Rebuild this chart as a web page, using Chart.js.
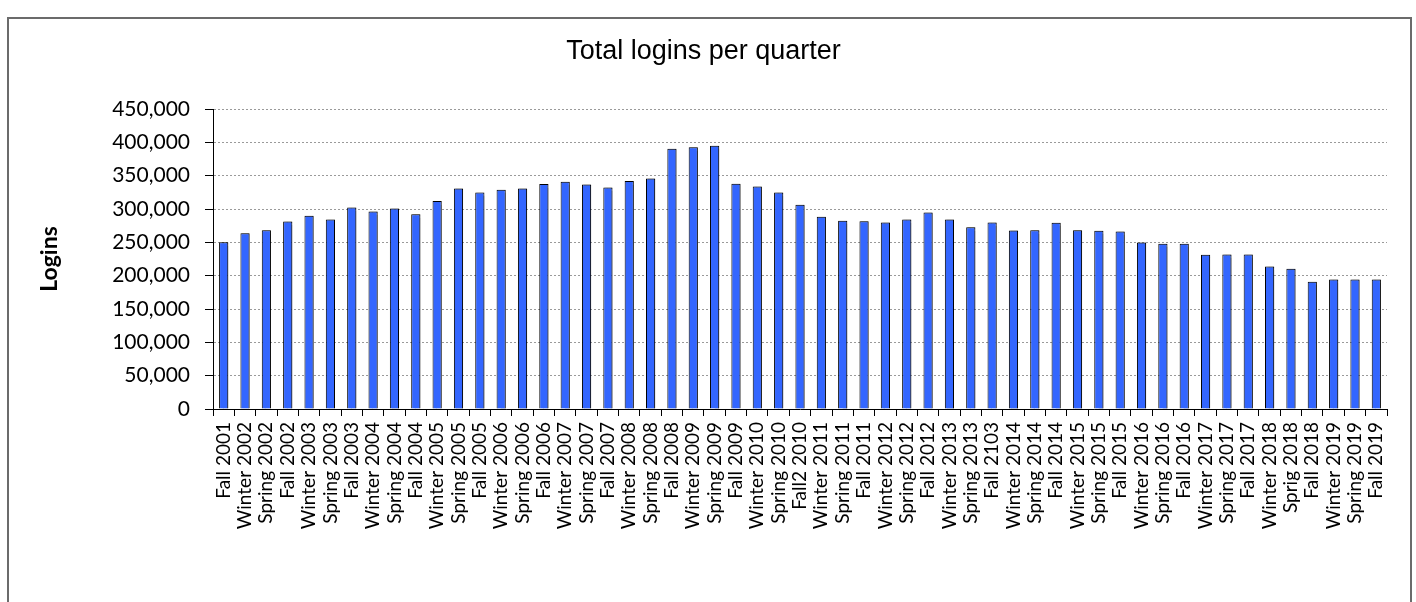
<!DOCTYPE html>
<html>
<head>
<meta charset="utf-8">
<script src="https://cdn.jsdelivr.net/npm/chart.js@4/dist/chart.umd.min.js"></script>
<style>
  body { margin: 0; background: #fff; }
  #wrap { position: relative; width: 1416px; height: 602px; overflow: hidden; }
  #frame { position: absolute; left: 7px; top: 17px; width: 1401px; height: 640px;
           border: 2px solid #6b6b6b; pointer-events: none; }
</style>
</head>
<body>
<div id="wrap">
  <canvas id="myChart" width="1416" height="602"></canvas>
  <div id="frame"></div>
</div>
<script>
const quarters = [
  'Fall 2001', 'Winter 2002', 'Spring 2002', 'Fall 2002', 'Winter 2003', 'Spring 2003',
  'Fall 2003', 'Winter 2004', 'Spring 2004', 'Fall 2004', 'Winter 2005', 'Spring 2005',
  'Fall 2005', 'Winter 2006', 'Spring 2006', 'Fall 2006', 'Winter 2007', 'Spring 2007',
  'Fall 2007', 'Winter 2008', 'Spring 2008', 'Fall 2008', 'Winter 2009', 'Spring 2009',
  'Fall 2009', 'Winter 2010', 'Spring 2010', 'Fall2 2010', 'Winter 2011', 'Spring 2011',
  'Fall 2011', 'Winter 2012', 'Spring 2012', 'Fall 2012', 'Winter 2013', 'Spring 2013',
  'Fall 2103', 'Winter 2014', 'Spring 2014', 'Fall 2014', 'Winter 2015', 'Spring 2015',
  'Fall 2015', 'Winter 2016', 'Spring 2016', 'Fall 2016', 'Winter 2017', 'Spring 2017',
  'Fall 2017', 'Winter 2018', 'Sprig 2018', 'Fall 2018', 'Winter 2019', 'Spring 2019',
  'Fall 2019'
];

const logins = [
  250300, 263800, 268300, 281400, 289800, 284300,
  302400, 296400, 300900, 292300, 311900, 330900,
  324600, 328800, 330900, 337400, 340900, 336900,
  332400, 341900, 345900, 390400, 392500, 394900,
  337800, 333900, 324900, 306300, 288300, 282300,
  281800, 279800, 284300, 294900, 284300, 272800,
  279800, 267800, 268300, 279300, 268300, 267300,
  266300, 249800, 247800, 247800, 231300, 231800,
  231800, 213800, 210200, 190700, 194300, 194300,
  194300
];

const yTicks = [0, 50000, 100000, 150000, 200000, 250000, 300000, 350000, 400000, 450000];

// soft grey shadow behind the bars, like the original
const barShadow = {
  id: 'barShadow',
  beforeDatasetsDraw(chart) {
    const c = chart.ctx;
    c.save();
    c.shadowColor = 'rgba(0, 0, 0, 0.3)';
    c.shadowOffsetX = 1.5;
    c.shadowOffsetY = 0;
    c.shadowBlur = 1;
  },
  afterDatasetsDraw(chart) {
    chart.ctx.restore();
  }
};

const ctx = document.getElementById('myChart').getContext('2d');

const myChart = new Chart(ctx, {
  type: 'bar',
  data: {
    labels: quarters,
    datasets: [{
      label: 'Logins',
      data: logins,
      backgroundColor: '#3366ff',
      borderColor: '#000000',
      borderWidth: 1,
      borderSkipped: 'bottom',
      barPercentage: 0.43,
      categoryPercentage: 1
    }]
  },
  plugins: [barShadow],
  options: {
    responsive: false,
    animation: false,
    layout: {
      padding: { top: 10, left: 20, right: 29, bottom: 0 }
    },
    plugins: {
      legend: { display: false },
      tooltip: { enabled: false },
      title: {
        display: true,
        text: 'Total logins per quarter',
        color: '#000',
        padding: { top: 25, bottom: 41.6 },
        font: {
          size: 27,
          family: 'Liberation Sans',
          weight: 'normal'
        }
      }
    },
    scales: {
      y: {
        min: 0,
        max: 450000,
        afterFit(scale) { scale.width = 193; },
        afterBuildTicks(scale) { scale.ticks = yTicks.map(v => ({ value: v })); },
        title: {
          display: true,
          text: 'Logins',
          color: '#000',
          padding: { top: 16, bottom: 0 },
          font: { size: 23, family: 'Lato', weight: 'bold' }
        },
        border: { display: true, color: '#000', width: 1, dash: [2, 2] },
        grid: {
          color: '#9a9a9a',
          lineWidth: 1,
          tickColor: '#000',
          tickLength: 8,
          tickBorderDash: []
        },
        ticks: {
          color: '#000',
          padding: 15,
          font: { size: 21, family: 'Lato', weight: 'normal' },
          callback: v => v.toLocaleString('en-US')
        }
      },
      x: {
        afterFit(scale) { scale.height = 193; },
        border: { display: true, color: '#000', width: 1 },
        grid: {
          offset: true,
          drawOnChartArea: false,
          tickColor: '#000',
          tickLength: 7
        },
        ticks: {
          color: '#000',
          autoSkip: false,
          minRotation: 90,
          maxRotation: 90,
          padding: 6,
          font: { size: 19, family: 'Lato', weight: 'normal' }
        }
      }
    }
  }
});
</script>
</body>
</html>
